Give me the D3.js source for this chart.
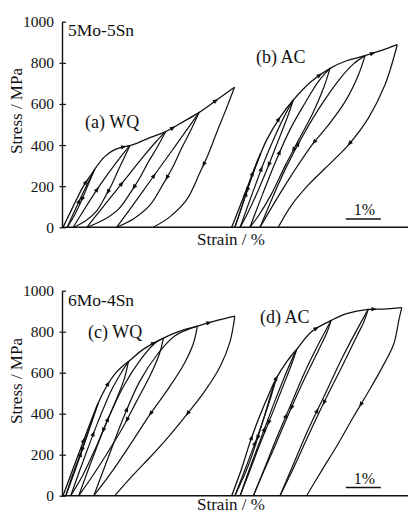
<!DOCTYPE html>
<html><head><meta charset="utf-8">
<script src="https://cdn.jsdelivr.net/npm/d3@7"></script>
<style>
body{margin:0;background:#fff}
svg{display:block}
text{font-family:"Liberation Serif","Times New Roman",serif;fill:#111}
</style>
</head><body>
<svg id="chart" width="411" height="514"></svg>
<script>
// ---------- data (strain %, stress MPa) ----------
const stressTicks = [0, 200, 400, 600, 800, 1000];
const alloyLabels = ["5Mo-5Sn", "6Mo-4Sn"];
const conditionLabels = [["(a) WQ", "(b) AC"], ["(c) WQ", "(d) AC"]];
const axisTitleY = "Stress / MPa";
const axisTitleX = "Strain / %";
const scaleBarLabel = "1%";
const scaleBarLength = 1; // % strain

// (a) 5Mo-5Sn WQ
const wq55Envelope = [[0,0],[0.2,70],[0.4,140],[0.6,205],[0.9,280],[1.0,305],[1.2,345],[1.45,375],[1.7,390],[1.91,397],[2.2,415],[2.5,437],[2.93,465],[3.44,514],[3.89,559],[4.39,619],[4.90,681]];
const wq55Unload = [
  [[0.9,280],[0.7,200],[0.5,120],[0.3,50],[0.12,0]],
  [[1.91,397],[1.73,332],[1.56,271],[1.39,207],[1.22,153],[0.95,77],[0.63,30],[0.29,0]],
  [[2.93,465],[2.69,389],[2.44,318],[2.20,242],[1.97,180],[1.60,91],[1.15,35],[0.68,0]],
  [[3.89,559],[3.64,468],[3.38,382],[3.13,291],[2.88,216],[2.49,109],[2.02,42],[1.53,0]],
  [[4.90,681],[4.65,570],[4.40,465],[4.15,355],[3.91,265],[3.53,133],[3.06,52],[2.58,0]]
];
const wq55Reload = [
  [[0.12,0],[0.4,105],[0.65,195],[0.9,280]],
  [[0.29,0],[0.6,85],[0.9,165],[1.2,240],[1.5,310],[1.75,365],[1.91,397]],
  [[0.68,0],[1.1,90],[1.5,175],[1.9,260],[2.3,345],[2.65,415],[2.93,465]],
  [[1.53,0],[1.9,85],[2.3,180],[2.7,275],[3.1,370],[3.5,465],[3.89,559]]
];

// (b) 5Mo-5Sn AC
const ac55Envelope = [[4.82,0],[5.05,100],[5.3,210],[5.5,300],[5.65,360],[5.82,425],[6.2,535],[6.58,619],[7.1,710],[7.63,773],[8.1,810],[8.63,835],[9.1,860],[9.55,888]];
const ac55Unload = [
  [[5.65,360],[5.45,270],[5.2,150],[5.05,70],[4.91,0]],
  [[6.58,619],[6.4,530],[6.1,400],[5.8,270],[5.5,150],[5.25,60],[5.06,0]],
  [[7.63,773],[7.45,680],[7.15,560],[6.75,430],[6.35,300],[5.95,160],[5.6,60],[5.34,0]],
  [[8.63,835],[8.44,741],[8.06,611],[7.58,497],[7.11,400],[6.53,254],[6.06,125],[5.63,0]],
  [[9.55,888],[9.2,693],[8.72,530],[8.15,400],[7.49,287],[7.01,206],[6.53,108],[6.15,0]]
];
const ac55Reload = [
  [[4.91,0],[5.15,120],[5.4,250],[5.65,360]],
  [[5.06,0],[5.4,160],[5.75,320],[6.1,460],[6.4,565],[6.58,619]],
  [[5.34,0],[5.7,160],[6.1,330],[6.5,480],[6.9,600],[7.3,710],[7.63,773]],
  [[5.63,0],[6.0,150],[6.4,300],[6.9,460],[7.4,600],[7.9,720],[8.3,795],[8.63,835]]
];

// (c) 6Mo-4Sn WQ
const wq64Envelope = [[0,0],[0.5,228],[1.0,450],[1.25,535],[1.5,598],[1.7,632],[1.87,654],[2.3,715],[2.87,769],[3.3,800],[3.84,827],[4.4,855],[4.91,876]];
const wq64Unload = [
  [[1.0,450],[0.8,350],[0.5,205],[0.25,90],[0.08,0]],
  [[1.87,654],[1.75,570],[1.5,460],[1.2,340],[0.9,220],[0.55,95],[0.22,0]],
  [[2.87,769],[2.75,690],[2.5,590],[2.1,460],[1.7,330],[1.2,190],[0.8,85],[0.45,0]],
  [[3.84,827],[3.72,740],[3.45,640],[3.0,520],[2.5,400],[2.0,270],[1.45,130],[0.88,0]],
  [[4.91,876],[4.77,750],[4.49,630],[4.01,500],[3.46,380],[3.0,285],[2.5,190],[2.0,100],[1.48,0]]
];
const wq64Reload = [
  [[0.08,0],[0.4,150],[0.7,300],[1.0,450]],
  [[0.22,0],[0.6,180],[1.0,360],[1.4,520],[1.7,610],[1.87,654]],
  [[0.45,0],[0.85,185],[1.3,380],[1.75,540],[2.2,660],[2.6,740],[2.87,769]],
  [[0.88,0],[1.3,190],[1.75,390],[2.2,560],[2.7,690],[3.2,780],[3.84,827]]
];

// (d) 6Mo-4Sn AC
const ac64Envelope = [[4.82,0],[5.1,130],[5.34,259],[5.6,380],[5.91,506],[6.1,575],[6.4,655],[6.68,715],[7.1,800],[7.66,855],[8.1,888],[8.72,909],[9.15,910],[9.68,917]];
const ac64Unload = [
  [[6.1,575],[5.95,500],[5.65,330],[5.3,150],[4.91,0]],
  [[6.68,715],[6.55,650],[6.3,540],[6.0,410],[5.6,240],[5.3,105],[5.06,0]],
  [[7.66,855],[7.55,800],[7.3,710],[6.9,570],[6.45,400],[6.0,220],[5.7,105],[5.44,0]],
  [[8.72,909],[8.6,850],[8.4,780],[8.0,640],[7.5,470],[7.0,290],[6.6,140],[6.2,0]],
  [[9.68,917],[9.6,860],[9.45,740],[9.1,620],[8.7,500],[8.3,385],[7.85,250],[7.4,125],[6.96,0]]
];
const ac64Reload = [
  [[4.91,0],[5.25,150],[5.6,310],[5.9,460],[6.1,575]],
  [[5.06,0],[5.35,140],[5.7,300],[6.05,460],[6.4,610],[6.68,715]],
  [[5.44,0],[5.75,130],[6.1,280],[6.5,440],[6.9,600],[7.3,740],[7.66,855]],
  [[6.2,0],[6.55,140],[7.0,320],[7.5,500],[8.0,680],[8.4,810],[8.72,909]]
];

// ---------- drawing ----------
const svg = d3.select("#chart");
const ink = "#111";
const serif = "Liberation Serif, Times New Roman, serif";
const x = d3.scaleLinear().domain([0, 9.8]).range([63, 406]);
const panels = [
  {y: d3.scaleLinear().domain([0, 1000]).range([227.3, 21.7]),
   sets: [[wq55Envelope, wq55Unload, wq55Reload], [ac55Envelope, ac55Unload, ac55Reload]],
   alloy: alloyLabels[0], cond: conditionLabels[0],
   condPos: [[85, 128], [256, 63]], alloyBase: 36, xTitleBase: 245, yTitleCenter: 111},
  {y: d3.scaleLinear().domain([0, 1000]).range([495.7, 290.7]),
   sets: [[wq64Envelope, wq64Unload, wq64Reload], [ac64Envelope, ac64Unload, ac64Reload]],
   alloy: alloyLabels[1], cond: conditionLabels[1],
   condPos: [[88, 338], [260, 323]], alloyBase: 306, xTitleBase: 510, yTitleCenter: 381}
];

panels.forEach(p => {
  const g = svg.append("g");
  const y = p.y;
  // y axis
  const ax = g.append("g").attr("transform", `translate(${x(0) - 1},0)`)
    .call(d3.axisLeft(y).tickValues(stressTicks).tickFormat(d3.format("d"))
      .tickSizeInner(-4).tickSizeOuter(0).tickPadding(8));
  ax.attr("font-family", serif).attr("font-size", 15.5);
  ax.select(".domain").attr("stroke", ink).attr("stroke-width", 1.4);
  ax.selectAll(".tick line").attr("stroke", ink).attr("stroke-width", 1.2)
    .attr("x1", d => d === 1000 ? 0 : -2.5).attr("x2", 4);
  ax.selectAll(".tick text").attr("font-size", 15.5).attr("font-family", serif).attr("fill", ink);
  // x axis baseline
  g.append("line").attr("x1", x(0) - 1).attr("x2", 408).attr("y1", y(0)).attr("y2", y(0))
    .attr("stroke", ink).attr("stroke-width", 1.4);
  // titles
  g.append("text").attr("transform", `translate(22,${p.yTitleCenter}) rotate(-90)`)
    .attr("text-anchor", "middle").attr("font-family", serif).attr("font-size", 17).text(axisTitleY);
  g.append("text").attr("x", 231).attr("y", p.xTitleBase).attr("text-anchor", "middle")
    .attr("font-family", serif).attr("font-size", 17).text(axisTitleX);
  g.append("text").attr("x", 68).attr("y", p.alloyBase).attr("font-family", serif)
    .attr("font-size", 17.5).text(p.alloy);
  p.cond.forEach((c, i) => g.append("text").attr("x", p.condPos[i][0]).attr("y", p.condPos[i][1])
    .attr("font-family", serif).attr("font-size", 18).text(c));
  // scale bar
  g.append("line").attr("x1", x(8.08)).attr("x2", x(8.08 + scaleBarLength))
    .attr("y1", y(40)).attr("y2", y(40)).attr("stroke", ink).attr("stroke-width", 1.5);
  g.append("text").attr("x", x(8.08 + scaleBarLength / 2) + 1).attr("y", y(58))
    .attr("text-anchor", "middle").attr("font-family", serif).attr("font-size", 16).text(scaleBarLabel);

  // curves
  const line = d3.line().x(d => x(d[0])).y(d => y(d[1])).curve(d3.curveCatmullRom.alpha(0.5));
  const arrowAt = (path, fracs) => {
    const node = path.node();
    const L = node.getTotalLength();
    fracs.forEach(f => {
      const a = node.getPointAtLength(f * L);
      const b = node.getPointAtLength(Math.min(L, f * L + 1));
      const ang = Math.atan2(b.y - a.y, b.x - a.x) * 180 / Math.PI;
      g.append("path").attr("d", "M3,0L-2.5,-2.2L-2.5,2.2Z").attr("fill", ink)
        .attr("transform", `translate(${a.x},${a.y}) rotate(${ang})`);
    });
  };
  p.sets.forEach(([env, unl, rel]) => {
    const e = g.append("path").attr("d", line(env)).attr("fill", "none")
      .attr("stroke", ink).attr("stroke-width", 1.3);
    arrowAt(e, [0.22, 0.45, 0.68, 0.9]);
    unl.forEach(s => {
      const pth = g.append("path").attr("d", line(s)).attr("fill", "none")
        .attr("stroke", ink).attr("stroke-width", 1.2);
      arrowAt(pth, [0.5]);
    });
    rel.forEach(s => {
      const pth = g.append("path").attr("d", line(s)).attr("fill", "none")
        .attr("stroke", ink).attr("stroke-width", 1.2);
      arrowAt(pth, [0.45]);
    });
  });
});
</script>
</body></html>
